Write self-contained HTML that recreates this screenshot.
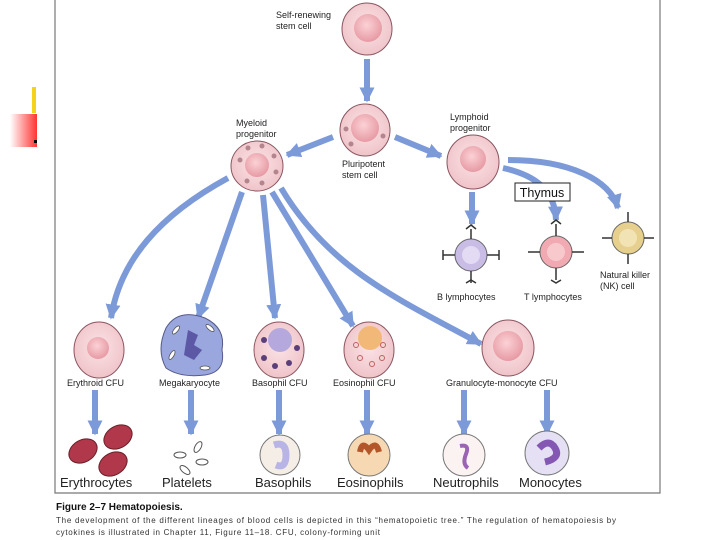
<!DOCTYPE html>
<html><head><meta charset="utf-8"><style>
body{margin:0;background:#fff;width:720px;height:540px;overflow:hidden}
svg{display:block;font-family:"Liberation Sans",sans-serif}
</style></head><body>
<svg width="720" height="540" viewBox="0 0 720 540">
<defs>
<radialGradient id="pk" cx="50%" cy="45%" r="55%"><stop offset="0" stop-color="#fbe3e6"/><stop offset="1" stop-color="#efc4c9"/></radialGradient>
<radialGradient id="nuc" cx="45%" cy="40%" r="60%"><stop offset="0" stop-color="#fbd2d6"/><stop offset="1" stop-color="#e79aa4"/></radialGradient>
<linearGradient id="rg" x1="0" x2="1"><stop offset="0" stop-color="#fff"/><stop offset="1" stop-color="#f33"/></linearGradient>
<marker id="ah" viewBox="0 0 10 10" refX="9" refY="5" markerWidth="2.5" markerHeight="2.5" orient="auto"><path d="M0,0L10,5L0,10z" fill="#7d9ad8"/></marker>
</defs>
<rect x="32" y="87" width="4" height="26" fill="#f5d21c"/>
<rect x="10" y="114" width="27" height="33" fill="url(#rg)"/>
<rect x="34" y="140" width="3" height="3" fill="#000"/>
<path d="M55 0V493H660V0" fill="none" stroke="#777" stroke-width="1.2"/>
<g stroke="#7d9ad8" stroke-width="6" fill="none" marker-end="url(#ah)">
<path d="M367 59V101"/>
<path d="M333 137L287 155"/>
<path d="M395 137L441 156"/>
<path d="M472 192V224"/>
<path d="M503 168C535 175 555 190 556 220"/>
<path d="M508 160C570 160 610 180 618 208"/>
<path d="M228 178C160 215 120 260 111 318"/>
<path d="M242 192L198 318"/>
<path d="M263 195L275 318"/>
<path d="M272 192L353 326"/>
<path d="M281 188C330 270 400 300 481 344"/>
<path d="M95 390V434"/>
<path d="M191 390V434"/>
<path d="M279 390V434"/>
<path d="M367 390V434"/>
<path d="M464 390V434"/>
<path d="M547 390V434"/>
</g>
<g stroke="#8a5560" stroke-width="1">
<ellipse cx="367" cy="29" rx="25" ry="26" fill="url(#pk)"/><circle cx="368" cy="28" r="14" fill="url(#nuc)" stroke="none"/>
<ellipse cx="365" cy="130" rx="25" ry="26" fill="url(#pk)"/><circle cx="365" cy="128" r="14" fill="url(#nuc)" stroke="none"/>
<ellipse cx="257" cy="166" rx="26" ry="25" fill="url(#pk)"/><circle cx="257" cy="165" r="12" fill="url(#nuc)" stroke="none"/>
<ellipse cx="473" cy="162" rx="26" ry="27" fill="url(#pk)"/><circle cx="473" cy="159" r="13" fill="url(#nuc)" stroke="none"/>
<ellipse cx="99" cy="350" rx="25" ry="28" fill="url(#pk)"/><circle cx="98" cy="348" r="11" fill="url(#nuc)" stroke="none"/>
<ellipse cx="279" cy="350" rx="25" ry="28" fill="url(#pk)"/><circle cx="280" cy="340" r="12" fill="#b4a8dc" stroke="none"/>
<ellipse cx="369" cy="350" rx="25" ry="28" fill="url(#pk)"/><circle cx="370" cy="338" r="12" fill="#f2b877" stroke="none"/>
<ellipse cx="508" cy="348" rx="26" ry="28" fill="url(#pk)"/><circle cx="508" cy="346" r="15" fill="url(#nuc)" stroke="none"/>
</g>
<g fill="#8a5560" opacity="0.6"><circle cx="240" cy="160" r="2.5"/><circle cx="248" cy="148" r="2.5"/><circle cx="262" cy="146" r="2.5"/><circle cx="274" cy="156" r="2.5"/><circle cx="276" cy="172" r="2.5"/><circle cx="262" cy="183" r="2.5"/><circle cx="247" cy="181" r="2.5"/><circle cx="346" cy="129" r="2.5"/><circle cx="351" cy="144" r="2.5"/><circle cx="383" cy="136" r="2.5"/></g>
<g fill="#5a3f7a"><circle cx="264" cy="358" r="3"/><circle cx="275" cy="366" r="3"/><circle cx="289" cy="363" r="3"/><circle cx="297" cy="348" r="3"/><circle cx="264" cy="340" r="3"/></g>
<g fill="none" stroke="#c06060"><circle cx="356" cy="345" r="2.5"/><circle cx="383" cy="345" r="2.5"/><circle cx="360" cy="358" r="2.5"/><circle cx="372" cy="364" r="2.5"/><circle cx="382" cy="358" r="2.5"/></g>
<path d="M166 328Q178 308 205 318Q226 328 222 350Q226 372 205 375Q180 378 166 368Q156 350 166 328z" fill="#9aa6de" stroke="#555a8a"/>
<path d="M188 330l10 5-4 10 8 5-8 10-10-5z" fill="#5c58a6"/>
<g fill="#fff" stroke="#555" stroke-width="0.8"><ellipse cx="176" cy="330" rx="5" ry="2" transform="rotate(-50 176 330)"/><ellipse cx="210" cy="328" rx="5" ry="2" transform="rotate(40 210 328)"/><ellipse cx="172" cy="355" rx="5" ry="2" transform="rotate(-60 172 355)"/><ellipse cx="205" cy="368" rx="5" ry="2"/></g>
<circle cx="471" cy="255" r="16" fill="#c9bde6" stroke="#666"/><circle cx="471" cy="255" r="9" fill="#e3daf3"/>
<circle cx="556" cy="252" r="16" fill="#f1aab2" stroke="#666"/><circle cx="556" cy="252" r="9" fill="#f7c9cd"/>
<circle cx="628" cy="238" r="16" fill="#e7d08e" stroke="#666"/><circle cx="628" cy="238" r="9" fill="#f2e3b5"/>
<g stroke="#333" stroke-width="1.5" fill="none"><path d="M471 239v-10M471 271v12M455 255h-12M487 255h12M556 236v-12M556 268v12M540 252h-12M572 252h12M628 222v-10M628 254v10M612 238h-10M644 238h10"/>
<path d="M466 229l5-4 5 4M466 283l5-3 5 3M443 250l0 10M499 250l0 10M551 224l5-4 5 4M551 280l5 3 5-3"/></g>
<g fill="#b0384a" stroke="#6a1e28"><ellipse cx="83" cy="451" rx="15" ry="11" transform="rotate(-30 83 451)"/><ellipse cx="118" cy="437" rx="15" ry="11" transform="rotate(-30 118 437)"/><ellipse cx="113" cy="464" rx="15" ry="11" transform="rotate(-30 113 464)"/></g>
<g fill="#fff" stroke="#555"><ellipse cx="180" cy="455" rx="6" ry="3"/><ellipse cx="198" cy="447" rx="6" ry="3" transform="rotate(-60 198 447)"/><ellipse cx="202" cy="462" rx="6" ry="3"/><ellipse cx="185" cy="470" rx="6" ry="3" transform="rotate(40 185 470)"/></g>
<circle cx="280" cy="455" r="20" fill="#f4eee6" stroke="#777"/><path d="M274 445q12-4 12 10t-10 10" stroke="#b8b4e6" stroke-width="7" fill="none"/>
<circle cx="369" cy="455" r="21" fill="#f6d9b3" stroke="#777"/><path d="M360 452q2-12 9-2q7-10 10 2" stroke="#b3572a" stroke-width="6" fill="none"/>
<circle cx="464" cy="455" r="21" fill="#fbf2f2" stroke="#777"/><path d="M460 446q10-2 6 8t2 14" stroke="#9a63b3" stroke-width="4" fill="none"/>
<circle cx="547" cy="453" r="22" fill="#e6e0f4" stroke="#777"/><path d="M539 448q10-10 16 0t-10 14" stroke="#8457b3" stroke-width="7" fill="none"/>
<rect x="515" y="183" width="55" height="18" fill="#fff" stroke="#222"/>
<text x="542" y="197" font-size="12.5" text-anchor="middle" fill="#111">Thymus</text>
<g font-size="9" fill="#222">
<text x="276" y="18">Self-renewing</text><text x="276" y="29">stem cell</text>
<text x="236" y="126">Myeloid</text><text x="236" y="137">progenitor</text>
<text x="342" y="167">Pluripotent</text><text x="342" y="178">stem cell</text>
<text x="450" y="120">Lymphoid</text><text x="450" y="131">progenitor</text>
<text x="600" y="278">Natural killer</text><text x="600" y="289">(NK) cell</text>
<text x="437" y="300">B lymphocytes</text><text x="524" y="300">T lymphocytes</text>
<text x="67" y="386">Erythroid CFU</text><text x="159" y="386">Megakaryocyte</text>
<text x="252" y="386">Basophil CFU</text><text x="333" y="386">Eosinophil CFU</text>
<text x="446" y="386">Granulocyte-monocyte CFU</text>
</g>
<g font-size="13" fill="#222">
<text x="60" y="487">Erythrocytes</text><text x="162" y="487">Platelets</text><text x="255" y="487">Basophils</text>
<text x="337" y="487">Eosinophils</text><text x="433" y="487">Neutrophils</text><text x="519" y="487">Monocytes</text>
</g>
<text x="56" y="510" font-size="10" font-weight="bold" fill="#111">Figure 2–7    Hematopoiesis.</text>
<g font-size="8" fill="#333"><text x="56" y="523" textLength="560">The development of the different lineages of blood cells is depicted in this “hematopoietic tree.” The regulation of hematopoiesis by</text>
<text x="56" y="535" textLength="324">cytokines is illustrated in Chapter 11, Figure 11–18. CFU, colony-forming unit</text></g>
</svg>
</body></html>
